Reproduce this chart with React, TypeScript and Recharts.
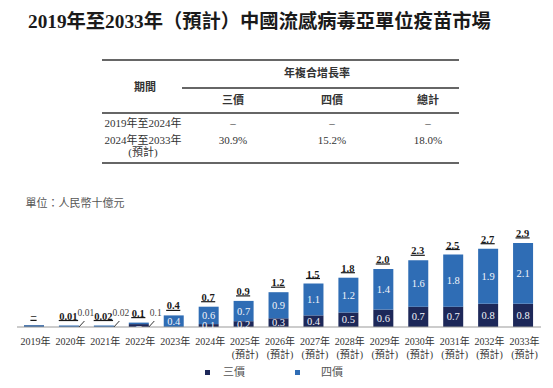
import { BarChart, Bar, XAxis, YAxis, LabelList } from 'recharts'

const years = ['2019年', '2020年', '2021年', '2022年', '2023年', '2024年', '2025年', '2026年', '2027年', '2028年', '2029年', '2030年', '2031年', '2032年', '2033年']
const projected = [false, false, false, false, false, false, true, true, true, true, true, true, true, true, true]

// 三價 / 四價, RMB bn
const trivalent = [0.004, 0, 0, 0.1, 0, 0.1, 0.2, 0.3, 0.4, 0.5, 0.6, 0.7, 0.7, 0.8, 0.8]
const quadrivalent = [0, 0.01, 0.02, 0.02, 0.4, 0.6, 0.7, 0.9, 1.1, 1.2, 1.4, 1.6, 1.8, 1.9, 2.1]

const totalLabels = ['–', '0.01', '0.02', '0.1', '0.4', '0.7', '0.9', '1.2', '1.5', '1.8', '2.0', '2.3', '2.5', '2.7', '2.9']
const triLabels = ['', '', '', '–', '', '0.1', '0.2', '0.3', '0.4', '0.5', '0.6', '0.7', '0.7', '0.8', '0.8']
const quadLabels = ['', '', '', '', '0.4', '0.6', '0.7', '0.9', '1.1', '1.2', '1.4', '1.6', '1.8', '1.9', '2.1']
const outsideLabels = ['', '0.01', '0.02', '0.1', '', '', '', '', '', '', '', '', '', '', '']

// CAGR table
const cagrPeriods = ['2019年至2024年', '2024年至2033年']
const cagrTri = ['–', '30.9%']
const cagrQuad = ['–', '15.2%']
const cagrTotal = ['–', '18.0%']

const NAVY = '#1d2859'
const BLUE = '#2f6db5'
const FONT = '"Liberation Serif", "Noto Sans CJK TC", serif'

const data = years.map((year, i) => ({
  year,
  tri: trivalent[i],
  quad: quadrivalent[i],
}))

const textWidth = (s: string, size: number) => {
  let w = 0
  for (const ch of s) w += ch === '.' ? 0.25 : 0.5
  return w * size
}

function Txt({ x, y, children, size = 11, weight = 400, color = '#333' }: any) {
  return (
    <div
      style={{
        position: 'absolute',
        left: x,
        top: y,
        transform: 'translate(-50%, -50%)',
        whiteSpace: 'nowrap',
        fontSize: size,
        fontWeight: weight,
        color,
        lineHeight: 1,
      }}
    >
      {children}
    </div>
  )
}

function Rule({ x1, x2, y, h = 2 }: any) {
  return <div style={{ position: 'absolute', left: x1, top: y - h / 2, width: x2 - x1, height: h, background: '#666' }} />
}

const YearTick = (props: any) => {
  const { x, y, payload, index } = props
  return (
    <g>
      <text x={x + 1} y={y + 14.5} textAnchor="middle" dominantBaseline="central" fontSize={10} fill="#333" fontFamily={FONT}>
        {payload.value}
      </text>
      {projected[index] && (
        <text x={x + 1} y={y + 27} textAnchor="middle" dominantBaseline="central" fontSize={10} fill="#333" fontFamily={FONT}>
          (預計)
        </text>
      )}
    </g>
  )
}

const outside = (i: number, cx: number, base: number) => {
  const out = outsideLabels[i]
  if (!out) return null
  return (
    <>
      <line x1={cx + 10} y1={base} x2={cx + 15.5} y2={base - 6} stroke="#333" strokeWidth={1} />
      <text x={cx + 17} y={base - 14.5} textAnchor="middle" dominantBaseline="central" fontSize={9.5} fill="#444" fontFamily={FONT}>
        {out}
      </text>
    </>
  )
}

const inner = (label: string, x: number, y: number, width: number, height: number) =>
  label ? (
    <text x={x + width / 2} y={y + height / 2} textAnchor="middle" dominantBaseline="central" fontSize={10.5} fill="#f2f4fa" fontFamily={FONT}>
      {label}
    </text>
  ) : null

const renderQuad = (props: any) => {
  const { x, y, width, height, value } = props
  const i = years.indexOf(value)
  const cx = x + width / 2
  const label = totalLabels[i]
  const w = textWidth(label, 10.5) + 1
  return (
    <g key={`q-${i}`}>
      {inner(quadLabels[i], x, y, width, height)}
      {trivalent[i] === 0 && outside(i, cx, y + height)}
      <text x={cx - 0.5} y={y - 9.5} textAnchor="middle" dominantBaseline="central" fontSize={10.5} fontWeight={700} fill="#1a1a1a" fontFamily={FONT}>
        {label}
      </text>
      <line x1={cx - 0.5 - w / 2} x2={cx - 0.5 + w / 2} y1={y - 5} y2={y - 5} stroke="#1a1a1a" strokeWidth={1.2} />
    </g>
  )
}

const renderTri = (props: any) => {
  const { x, y, width, height, value } = props
  const i = years.indexOf(value)
  return (
    <g key={`t-${i}`}>
      {inner(triLabels[i], x, y, width, height)}
      {trivalent[i] > 0 && outside(i, x + width / 2, y + height)}
    </g>
  )
}

export default function App() {
  return (
    <div style={{ position: 'fixed', left: 0, top: 0, width: 553, height: 388, background: '#fff', fontFamily: FONT, overflow: 'hidden' }}>
      <div style={{ position: 'absolute', left: 28, top: 21.5, transform: 'translateY(-50%)', fontSize: 19.3, fontWeight: 700, color: '#1a1a1a', whiteSpace: 'nowrap', lineHeight: 1 }}>
        2019年至2033年（預計）中國流感病毒亞單位疫苗市場
      </div>

      {/* CAGR table */}
      <Rule x1={102} x2={459} y={60} />
      <Txt x={317} y={73} weight={700}>年複合增長率</Txt>
      <Rule x1={182} x2={459} y={88} h={1.5} />
      <Txt x={145} y={87} weight={700}>期間</Txt>
      <Txt x={233} y={100} weight={700}>三價</Txt>
      <Txt x={332} y={100} weight={700}>四價</Txt>
      <Txt x={428} y={100} weight={700}>總計</Txt>
      <Rule x1={102} x2={459} y={113} h={1.5} />
      {cagrPeriods.map((p, i) => (
        <div key={p}>
          <Txt x={143} y={123 + i * 17}>{p}</Txt>
          <Txt x={233} y={123 + i * 17}>{cagrTri[i]}</Txt>
          <Txt x={332} y={123 + i * 17}>{cagrQuad[i]}</Txt>
          <Txt x={428} y={123 + i * 17}>{cagrTotal[i]}</Txt>
        </div>
      ))}
      <Txt x={143} y={152}>(預計)</Txt>
      <Rule x1={102} x2={459} y={163} />

      <Txt x={75} y={203} color="#555">單位：人民幣十億元</Txt>

      <div style={{ position: 'absolute', left: 0, top: 220 }}>
        <BarChart width={553} height={150} data={data} margin={{ top: 20, right: 12, left: 17, bottom: 3 }} barSize={20}>
          <XAxis
            dataKey="year"
            interval={0}
            height={40}
            tickLine={false}
            tickSize={0}
            tickMargin={0}
            axisLine={{ stroke: '#999', strokeWidth: 1.2 }}
            tick={YearTick}
          />
          <YAxis hide domain={[0, 3]} />
          <Bar dataKey="tri" stackId="a" fill={NAVY} isAnimationActive={false} minPointSize={(v: number) => (v > 0 ? 1.5 : 0)}>
            <LabelList dataKey="year" content={renderTri} />
          </Bar>
          <Bar dataKey="quad" stackId="a" fill={BLUE} isAnimationActive={false} minPointSize={(v: number) => (v > 0 ? 1.5 : 0)}>
            <LabelList dataKey="year" content={renderQuad} />
          </Bar>
        </BarChart>
      </div>

      {/* legend */}
      <div style={{ position: 'absolute', left: 204.5, top: 369.5, width: 5, height: 5, background: NAVY }} />
      <Txt x={234} y={372} color="#555">三價</Txt>
      <div style={{ position: 'absolute', left: 294.5, top: 369.5, width: 5, height: 5, background: BLUE }} />
      <Txt x={332} y={372} color="#555">四價</Txt>
    </div>
  )
}
